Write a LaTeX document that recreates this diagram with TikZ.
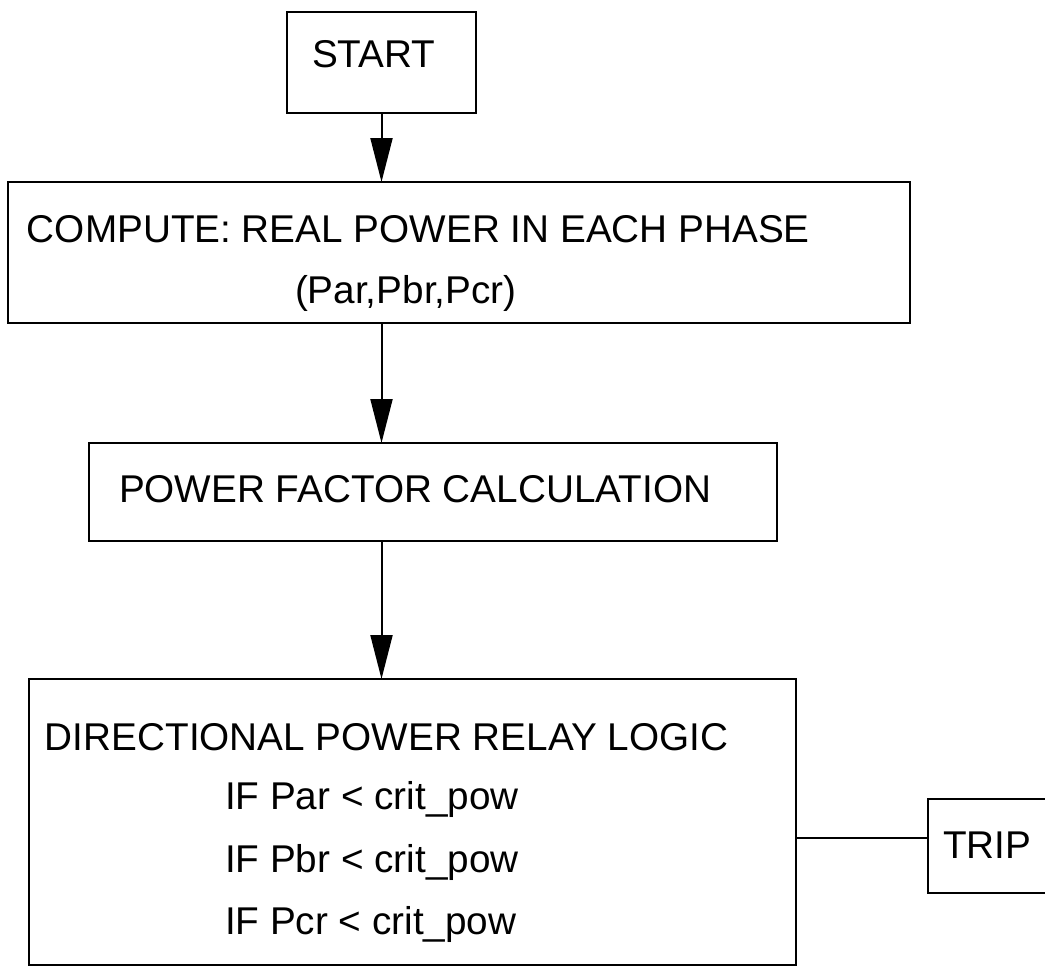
\documentclass[tikz,border=0pt]{standalone}
\usepackage{fontspec}
\setmainfont{Liberation Sans}
\usetikzlibrary{arrows.meta}
\begin{document}
\begin{tikzpicture}[x=1pt,y=-1pt,
  box/.style={draw, line width=2pt, inner sep=0pt, outer sep=0pt, anchor=north west},
  lbl/.style={anchor=base west, inner sep=0pt, outer sep=0pt, font=\fontsize{38.7}{46}\selectfont},
  flow/.style={line width=2pt, -{Triangle[length=44pt,width=22pt]}},
  wire/.style={line width=2pt}]
  \useasboundingbox (0,0) rectangle (1045,966);
  \fill[white] (0,0) rectangle (1045,966);
  \clip (0,0) rectangle (1045,966);

  % boxes
  \node[box, minimum width=189pt, minimum height=101pt] (start) at (287,12) {};
  \node[box, minimum width=902pt, minimum height=141pt] (comp) at (8,182) {};
  \node[box, minimum width=688pt, minimum height=98pt] (pf) at (89,443) {};
  \node[box, minimum width=767pt, minimum height=286pt] (dir) at (29,679) {};
  \node[box, minimum width=140pt, minimum height=94pt] (trip) at (928,799) {};

  % texts
  \node[lbl] (tstart) at (312,68) {START};
  \node[lbl] (tcomp) at (27,242) {COMPUTE: REAL POWER IN EACH PHASE};
  \node[lbl] (tpow) at (295,303) {(Par,Pbr,Pcr)};
  \node[lbl] (tpf) at (119,502) {POWER FACTOR CALCULATION};
  \node[lbl] (tdir) at (45,750) {DIRECTIONAL POWER RELAY LOGIC};
  \node[lbl] (tifa) at (225,809) {IF Par < crit\_pow};
  \node[lbl] (tifb) at (225,872) {IF Pbr < crit\_pow};
  \node[lbl] (tifc) at (225,934) {IF Pcr < crit\_pow};
  \node[lbl] (ttrip) at (943,858) {TRIP};

  % connectors
  \draw[flow] (start.south) -- (start.south |- comp.north);
  \draw[flow] (comp.south -| start.south) -- (pf.north -| start.south);
  \draw[flow] (pf.south -| start.south) -- (dir.north -| start.south);
  \draw[wire] ([yshift=8pt]trip.west) -- ([yshift=8pt]trip.west -| dir.east);
\end{tikzpicture}
\end{document}
